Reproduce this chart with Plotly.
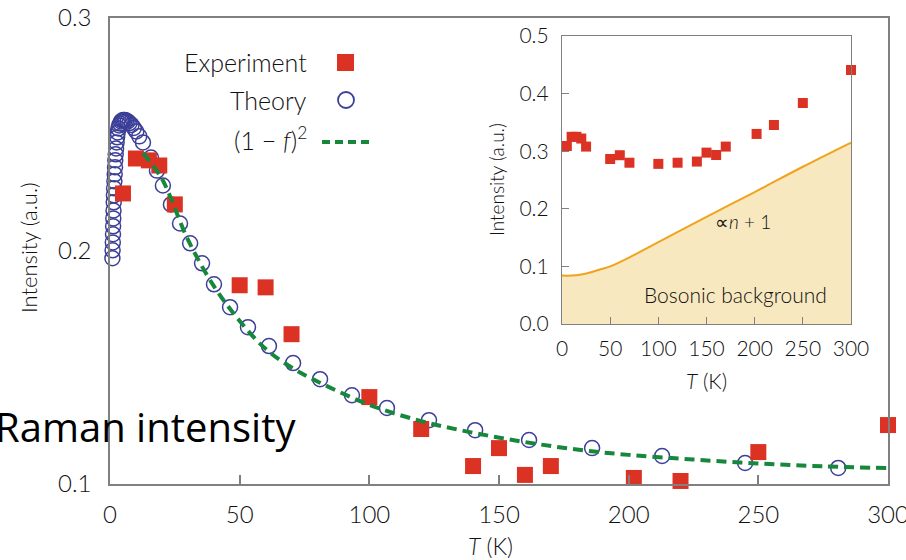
import plotly.graph_objects as go

W, H = 906, 560

# ---------------- data ----------------
exp_T = [5, 10, 15, 19, 25, 50, 60, 70, 100, 120, 140, 150, 160, 170, 202, 220, 250, 300]
exp_I = [0.2247, 0.2397, 0.2389, 0.2367, 0.2200, 0.1853, 0.1844, 0.1643, 0.1373, 0.1236,
         0.1077, 0.1154, 0.1039, 0.1077, 0.1026, 0.1013, 0.1137, 0.1253]

theory_T = [0.93, 1.00, 1.08, 1.16, 1.20, 1.27, 1.35, 1.43, 1.50, 1.58, 1.70, 1.81, 1.93,
            2.04, 2.20, 2.35, 2.55, 2.74, 2.97, 3.24, 3.55, 3.90, 4.28, 4.70, 5.17, 5.67,
            6.21, 6.83, 7.52, 8.29, 9.18, 10.14, 11.3, 12.7, 15.8, 18.1, 20.4, 23.5, 27.0,
            30.9, 35.5, 40.1, 46.3, 53.2, 61.3, 70.6, 81.0, 93.3, 106.8, 123.0, 140.8,
            161.6, 185.9, 212.9, 244.9, 280.8]
theory_I = [0.1969, 0.2003, 0.2037, 0.2072, 0.2106, 0.2140, 0.2174, 0.2209, 0.2239, 0.2269,
            0.2299, 0.2329, 0.2359, 0.2389, 0.2415, 0.2440, 0.2466, 0.2488, 0.2509, 0.2526,
            0.2539, 0.2547, 0.2556, 0.2560, 0.2562, 0.2562, 0.2560, 0.2556, 0.2549, 0.2541,
            0.2528, 0.2513, 0.2492, 0.2466, 0.2401, 0.2345, 0.2281, 0.2200, 0.2118, 0.2033,
            0.1947, 0.1857, 0.1759, 0.1673, 0.1592, 0.1519, 0.1450, 0.1381, 0.1326, 0.1274,
            0.1231, 0.1189, 0.1154, 0.1120, 0.1090, 0.1069]

fit_T = [12.7, 20, 30, 40, 50, 60, 70, 80, 100, 120, 140, 160, 180, 200, 225, 250, 275, 300]
fit_I = [0.2420, 0.2310, 0.2050, 0.1850, 0.1700, 0.1580, 0.1500, 0.1440, 0.1340, 0.1270,
         0.1220, 0.1180, 0.1148, 0.1125, 0.1105, 0.1088, 0.1076, 0.1068]

inset_T = [5, 10, 15, 20, 25, 50, 60, 70, 100, 120, 140, 150, 160, 170, 202, 220, 250, 300]
inset_I = [0.309, 0.325, 0.325, 0.322, 0.308, 0.2865, 0.293, 0.280, 0.278, 0.280, 0.282,
           0.2975, 0.2934, 0.308, 0.330, 0.3455, 0.3837, 0.441]

bos_T = [0, 10, 20, 30, 40, 50, 75, 100, 150, 200, 250, 300]
bos_I = [0.084, 0.084, 0.086, 0.090, 0.095, 0.100, 0.120, 0.142, 0.186, 0.229, 0.273, 0.315]

main_xticks = [0, 50, 100, 150, 200, 250, 300]
main_yticks = [0.1, 0.2, 0.3]
inset_xticks = [0, 50, 100, 150, 200, 250, 300]
inset_yticks = [0.0, 0.1, 0.2, 0.3, 0.4, 0.5]

# ---------------- style ----------------
RED = "#dc3224"
NAVY = "#3b3f98"
GREEN = "#17873c"
ORANGE = "#f0a31c"
FILL = "#f7e8c0"
AXC = "#808080"
FONT = "Lato"
WGT = 300

def px(x):
    return x / W

def py(y):
    return 1 - y / H

fig = go.Figure()

fig.add_trace(go.Scatter(x=theory_T, y=theory_I, mode="markers", cliponaxis=False,
                         marker=dict(symbol="circle-open", size=15, color=NAVY,
                                     line=dict(width=1.5, color=NAVY)),
                         xaxis="x", yaxis="y", showlegend=False))
fig.add_trace(go.Scatter(x=exp_T, y=exp_I, mode="markers", cliponaxis=False,
                         marker=dict(symbol="square", size=16, color=RED, line=dict(width=0)),
                         xaxis="x", yaxis="y", showlegend=False))
fig.add_trace(go.Scatter(x=fit_T, y=fit_I, mode="lines", line_shape="spline",
                         line=dict(color=GREEN, width=4, dash="10px,6px"),
                         xaxis="x", yaxis="y", showlegend=False))

# inset
fig.add_trace(go.Scatter(x=bos_T, y=bos_I, mode="lines", line_shape="spline", fill="tozeroy",
                         fillcolor=FILL, line=dict(color=ORANGE, width=2),
                         xaxis="x2", yaxis="y2", showlegend=False))
fig.add_trace(go.Scatter(x=inset_T, y=inset_I, mode="markers", cliponaxis=False,
                         marker=dict(symbol="square", size=10, color=RED, line=dict(width=0)),
                         xaxis="x2", yaxis="y2", showlegend=False))

tickfont_main = dict(family=FONT, size=24, color="#111", weight=WGT)
tickfont_in = dict(family=FONT, size=21, color="#111", weight=WGT)

fig.update_layout(
    width=W, height=H, margin=dict(l=0, r=0, t=0, b=0, autoexpand=False),
    paper_bgcolor="white", plot_bgcolor="white",
    xaxis=dict(domain=[px(110), px(888)], range=[0, 300], tickvals=main_xticks,
               ticks="inside", ticklen=9, tickcolor=AXC, tickwidth=1.5,
               showline=True, linecolor=AXC, linewidth=1.5, mirror=True,
               showgrid=False, zeroline=False, tickfont=tickfont_main,
               ticklabelstandoff=8, ticklabeloverflow="allow", anchor="y", automargin=False),
    yaxis=dict(domain=[py(484), py(18)], range=[0.1, 0.3], tickvals=main_yticks,
               ticktext=["0.1", "0.2", "0.3"], ticks="",
               showline=True, linecolor=AXC, linewidth=1.5, mirror=True,
               showgrid=False, zeroline=False, tickfont=tickfont_main,
               ticklabelstandoff=12, ticklabeloverflow="allow", anchor="x", automargin=False),
    xaxis2=dict(domain=[px(562), px(851)], range=[0, 300], tickvals=inset_xticks,
                ticks="inside", ticklen=7, tickcolor=AXC, tickwidth=1.2,
                showline=True, linecolor=AXC, linewidth=1.2, mirror=True,
                showgrid=False, zeroline=False, tickfont=tickfont_in,
                ticklabelstandoff=6, anchor="y2", automargin=False),
    yaxis2=dict(domain=[py(324), py(36)], range=[0, 0.5], tickvals=inset_yticks,
                ticktext=["0.0", "0.1", "0.2", "0.3", "0.4", "0.5"],
                ticks="inside", ticklen=7, tickcolor=AXC, tickwidth=1.2,
                showline=True, linecolor=AXC, linewidth=1.2, mirror=True,
                showgrid=False, zeroline=False, tickfont=tickfont_in,
                ticklabelstandoff=8, anchor="x2", automargin=False),
)

ann = []
def text(x, y, s, size, xanchor="center", angle=0, color="#111"):
    ann.append(dict(x=px(x), y=py(y), xref="paper", yref="paper", text=s, showarrow=False,
                    xanchor=xanchor, yanchor="middle", textangle=angle,
                    font=dict(family=FONT, size=size, color=color, weight=WGT)))

# main titles
text(490, 546, "<i>T</i> (K)", 23)
text(28, 248, "Intensity (a.u.)", 22, angle=-90)
# inset titles
text(706, 380, "<i>T</i> (K)", 21)
text(497, 180, "Intensity (a.u.)", 19, angle=-90)
# legend text
text(309, 62, "Experiment", 25, xanchor="right")
text(309, 100, "Theory", 25, xanchor="right")
text(309, 138, "(1 − <i>f</i>)<sup>2</sup>", 25, xanchor="right")
# inset annotations
text(743, 222, "∝<i>n</i> + 1", 19)
text(735, 294, "Bosonic background", 21)
# overlapping label
ann.append(dict(x=px(298), y=py(426), xref="paper", yref="paper", text="Raman intensity",
                showarrow=False, xanchor="right", yanchor="middle",
                font=dict(family="Open Sans", size=40, color="#000")))
fig.update_layout(annotations=ann)

# legend keys (decorations in paper coords)
shapes = [
    dict(type="rect", xref="paper", yref="paper", x0=px(337), x1=px(354), y0=py(71), y1=py(54),
         fillcolor=RED, line=dict(width=0)),
    dict(type="circle", xref="paper", yref="paper", x0=px(338), x1=px(354), y0=py(108), y1=py(92),
         line=dict(color=NAVY, width=1.8)),
    dict(type="line", xref="paper", yref="paper", x0=px(322), x1=px(370), y0=py(142), y1=py(142),
         line=dict(color=GREEN, width=4, dash="8px,5px")),
]
fig.update_layout(shapes=shapes)

fig.write_html("out.html")
